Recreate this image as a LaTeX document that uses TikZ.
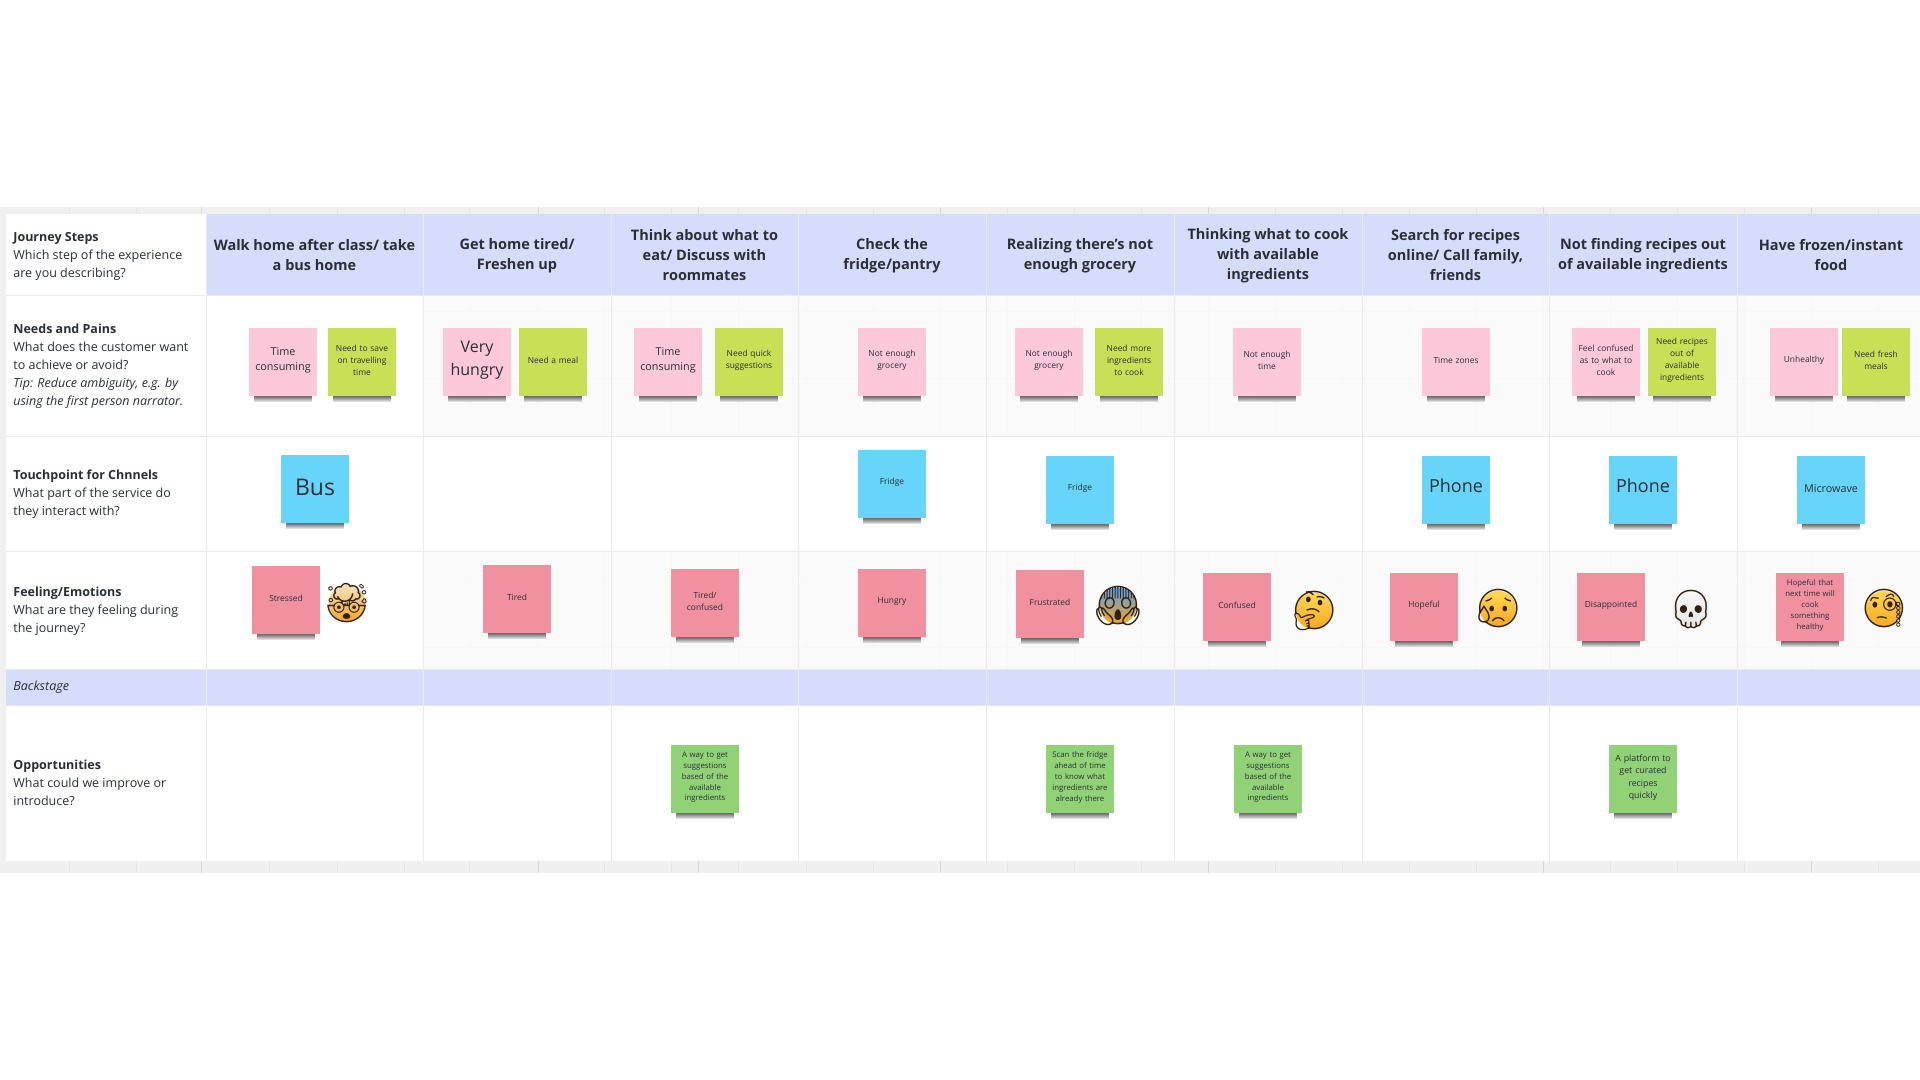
\documentclass[tikz,border=0pt]{standalone}
\usepackage{fontspec}
\setmainfont{Open Sans}
\newfontfamily\emojifont{Noto Emoji}
\usetikzlibrary{fadings}

\definecolor{stepblue}{HTML}{D6DCFB}
\definecolor{notepink}{HTML}{FCC8DA}
\definecolor{notelime}{HTML}{C9DF56}
\definecolor{noteblue}{HTML}{67D5FA}
\definecolor{notered}{HTML}{F1919F}
\definecolor{notegreen}{HTML}{92D277}
\definecolor{inktext}{HTML}{2A2F36}
\definecolor{facetop}{HTML}{FFD850}
\definecolor{facebottom}{HTML}{F7A823}
\definecolor{screamtop}{HTML}{5A9BE6}
\definecolor{headtop}{HTML}{F3E2C0}

\tikzfading[name=stripfade, top color=transparent!25, bottom color=transparent!100]

\tikzset{
  note/.style={fill=#1, minimum width=34pt, minimum height=34pt, inner sep=1pt,
    text width=32pt, align=center, text=inktext,
    execute at end node={\par\vspace{1.5pt}}},
  noteshadow/.style={fill=black, opacity=.75, path fading=stripfade},
  dense/.style={font=\fontsize{3.9}{5.4}\selectfont},
  tiny/.style={font=\fontsize{4.2}{6}\selectfont},
  mid/.style={font=\fontsize{4.4}{6.2}\selectfont},
  small/.style={font=\fontsize{5.4}{7.6}\selectfont},
  large/.style={font=\fontsize{8}{11.5}\selectfont},
  huge/.style={font=\fontsize{9}{12}\selectfont},
  rowlabel/.style={anchor=west, align=left, inner sep=0pt, text=inktext,
    font=\fontsize{6.25}{9}\selectfont},
  stephead/.style={align=center, inner sep=0pt, text=inktext,
    font=\fontsize{7.25}{10}\selectfont\bfseries},
  face/.style={circle, inner sep=-4.6pt, text=black!75!brown,
    top color=facetop, bottom color=facebottom,
    font=\fontsize{19}{20}\emojifont}
}

\begin{document}
\begin{tikzpicture}[x=0.5pt,y=-0.5pt]
  \useasboundingbox (0,0) rectangle (1920,1080);
  \fill[white] (0,0) rectangle (1920,1080);

  % board behind the table
  \fill[black!6] (0,207) rectangle (1920,873);
  \foreach \x in {69,136,269,337,404,469,604,671,738,806,873,1007,1074,1141,1275,1342,1409,1476,1610,1677,1744,1878}
    \draw[black!10,line width=.4pt] (\x,207) -- (\x,214) (\x,861) -- (\x,873);
  \foreach \x in {201,538,698,940,1208,1543,1811}
    \draw[black!16,line width=.5pt] (\x,207) -- (\x,214) (\x,861) -- (\x,873);

  % rows
  \fill[white] (6,214) rectangle (1920,861);
  \fill[black!2] (423,296) rectangle (1920,436);
  \fill[black!2] (423,551) rectangle (1920,669);
  \foreach \x in {470,537,604,671,738,806,873,940,1007,1074,1141,1208,1275,1342,1409,1476,1543,1610,1677,1744,1811,1878} {
    \draw[black!3,line width=.4pt] (\x,296) -- (\x,436);
    \draw[black!3,line width=.4pt] (\x,551) -- (\x,669);
  }
  \foreach \y in {311,378,580,647}
    \draw[black!3,line width=.4pt] (423,\y) -- (1920,\y);
  \fill[stepblue] (206,214) rectangle (1920,296);
  \fill[stepblue] (6,669) rectangle (1920,705);

  \foreach \y in {296,436,551,669,705}
    \draw[black!8,line width=.5pt] (6,\y) -- (1920,\y);
  \foreach \x in {206,423,611,798,986,1174,1362,1549,1737}
    \draw[black!8,line width=.5pt] (\x,214) -- (\x,861);

  % left column
  \node[rowlabel] (journey) at (13,256) {\textbf{Journey Steps}\\Which step of the experience\\are you describing?};
  \node[rowlabel] (needs) at (13,366) {\textbf{Needs and Pains}\\What does the customer want\\to achieve or avoid?\\\textit{Tip: Reduce ambiguity, e.g. by}\\\textit{using the first person narrator.}};
  \node[rowlabel] (touch) at (13,494) {\textbf{Touchpoint for Chnnels}\\What part of the service do\\they interact with?};
  \node[rowlabel] (feeling) at (13,611) {\textbf{Feeling/Emotions}\\What are they feeling during\\the journey?};
  \node[rowlabel] (backstage) at (13,687) {\textit{Backstage}};
  \node[rowlabel] (opportunities) at (13,783) {\textbf{Opportunities}\\What could we improve or\\introduce?};

  % journey steps
  \node[stephead] (step1) at (314.5,255.5) {Walk home after class/ take\\a bus home};
  \node[stephead] (step2) at (517,256) {Get home tired/\\Freshen up};
  \node[stephead] (step3) at (704.5,255) {Think about what to\\eat/ Discuss with\\roommates};
  \node[stephead] (step4) at (892,256) {Check the\\fridge/pantry};
  \node[stephead] (step5) at (1080,256) {Realizing there's not\\enough grocery};
  \node[stephead] (step6) at (1268,256) {Thinking what to cook\\with available\\ingredients};
  \node[stephead] (step7) at (1455.5,255) {Search for recipes\\online/ Call family,\\friends};
  \node[stephead] (step8) at (1643,256) {Not finding recipes out\\of available ingredients};
  \node[stephead] (step9) at (1831,255) {Have frozen/instant\\food};

  % needs and pains
  \node[note=notepink,small] (pain1) at (283,362) {Time\\consuming};
  \node[note=notelime,tiny] (need1) at (362,362) {Need to save\\on travelling\\time};
  \node[note=notepink,large] (pain2) at (477,362) {Very\\hungry};
  \node[note=notelime,tiny] (need2) at (553,362) {Need a meal};
  \node[note=notepink,small] (pain3) at (668,362) {Time\\consuming};
  \node[note=notelime,tiny] (need3) at (749,362) {Need quick\\suggestions};
  \node[note=notepink,tiny] (pain4) at (892,362) {Not enough\\grocery};
  \node[note=notepink,tiny] (pain5) at (1049,362) {Not enough\\grocery};
  \node[note=notelime,tiny] (need5) at (1129,362) {Need more\\ingredients\\to cook};
  \node[note=notepink,tiny] (pain6) at (1267,362) {Not enough\\time};
  \node[note=notepink,tiny] (pain7) at (1456,362) {Time zones};
  \node[note=notepink,tiny] (pain8) at (1606,362) {Feel confused\\as to what to\\cook};
  \node[note=notelime,tiny] (need8) at (1682,362) {Need recipes\\out of\\available\\ingredients};
  \node[note=notepink,tiny] (pain9) at (1804,362) {Unhealthy};
  \node[note=notelime,tiny] (need9) at (1876,362) {Need fresh\\meals};

  % touchpoints
  \node[note=noteblue,font=\fontsize{11.5}{13}\selectfont] (bus) at (315,489) {Bus};
  \node[note=noteblue,tiny] (fridgea) at (892,484) {Fridge};
  \node[note=noteblue,tiny] (fridgeb) at (1080,490) {Fridge};
  \node[note=noteblue,huge,execute at end node={\par\vspace{3pt}}] (phonea) at (1456,490) {Phone};
  \node[note=noteblue,huge,execute at end node={\par\vspace{3pt}}] (phoneb) at (1643,490) {Phone};
  \node[note=noteblue,small] (microwave) at (1831,490) {Microwave};

  % feelings
  \node[note=notered,tiny] (stressed) at (286,600) {Stressed};
  \node[note=notered,tiny] (tired) at (517,599) {Tired};
  \node[note=notered,tiny] (confuseda) at (705,603) {Tired/\\confused};
  \node[note=notered,tiny] (hungry) at (892,603) {Hungry};
  \node[note=notered,tiny] (frustrated) at (1050,604) {Frustrated};
  \node[note=notered,tiny] (confusedb) at (1237,607) {Confused};
  \node[note=notered,tiny] (hopeful) at (1424,607) {Hopeful};
  \node[note=notered,tiny] (disappointed) at (1611,607) {Disappointed};
  \node[note=notered,dense] (nexttime) at (1810,607) {Hopeful that\\next time will\\cook\\something\\healthy};

  \node[face,top color=headtop] (mind) at (347,603) {🤯};
  \node[face,top color=screamtop] (scream) at (1118,606) {😱};
  \node[face] (think) at (1314,611) {🤔};
  \node[face] (tear) at (1498,609) {😥};
  \node[face,top color=black!3,bottom color=black!10] (skull) at (1691,610) {💀};
  \node[face] (monocle) at (1884,609) {🧐};

  % opportunities
  \node[note=notegreen,dense] (ideaa) at (705,779) {A way to get\\suggestions\\based of the\\available\\ingredients};
  \node[note=notegreen,dense] (ideab) at (1080,779) {Scan the fridge\\ahead of time\\to know what\\ingredients are\\already there};
  \node[note=notegreen,dense] (ideac) at (1268,779) {A way to get\\suggestions\\based of the\\available\\ingredients};
  \node[note=notegreen,mid] (idead) at (1643,779) {A platform to\\get curated\\recipes\\quickly};

  % strips under the notes
  \foreach \n in {pain1,need1,pain2,need2,pain3,need3,pain4,pain5,need5,pain6,pain7,pain8,need8,pain9,need9,
      bus,fridgea,fridgeb,phonea,phoneb,microwave,
      stressed,tired,confuseda,hungry,frustrated,confusedb,hopeful,disappointed,nexttime,
      ideaa,ideab,ideac,idead}
    \fill[noteshadow] ([xshift=2.8pt]\n.south west) rectangle ([xshift=-2.8pt,yshift=-3pt]\n.south east);
\end{tikzpicture}
\end{document}
